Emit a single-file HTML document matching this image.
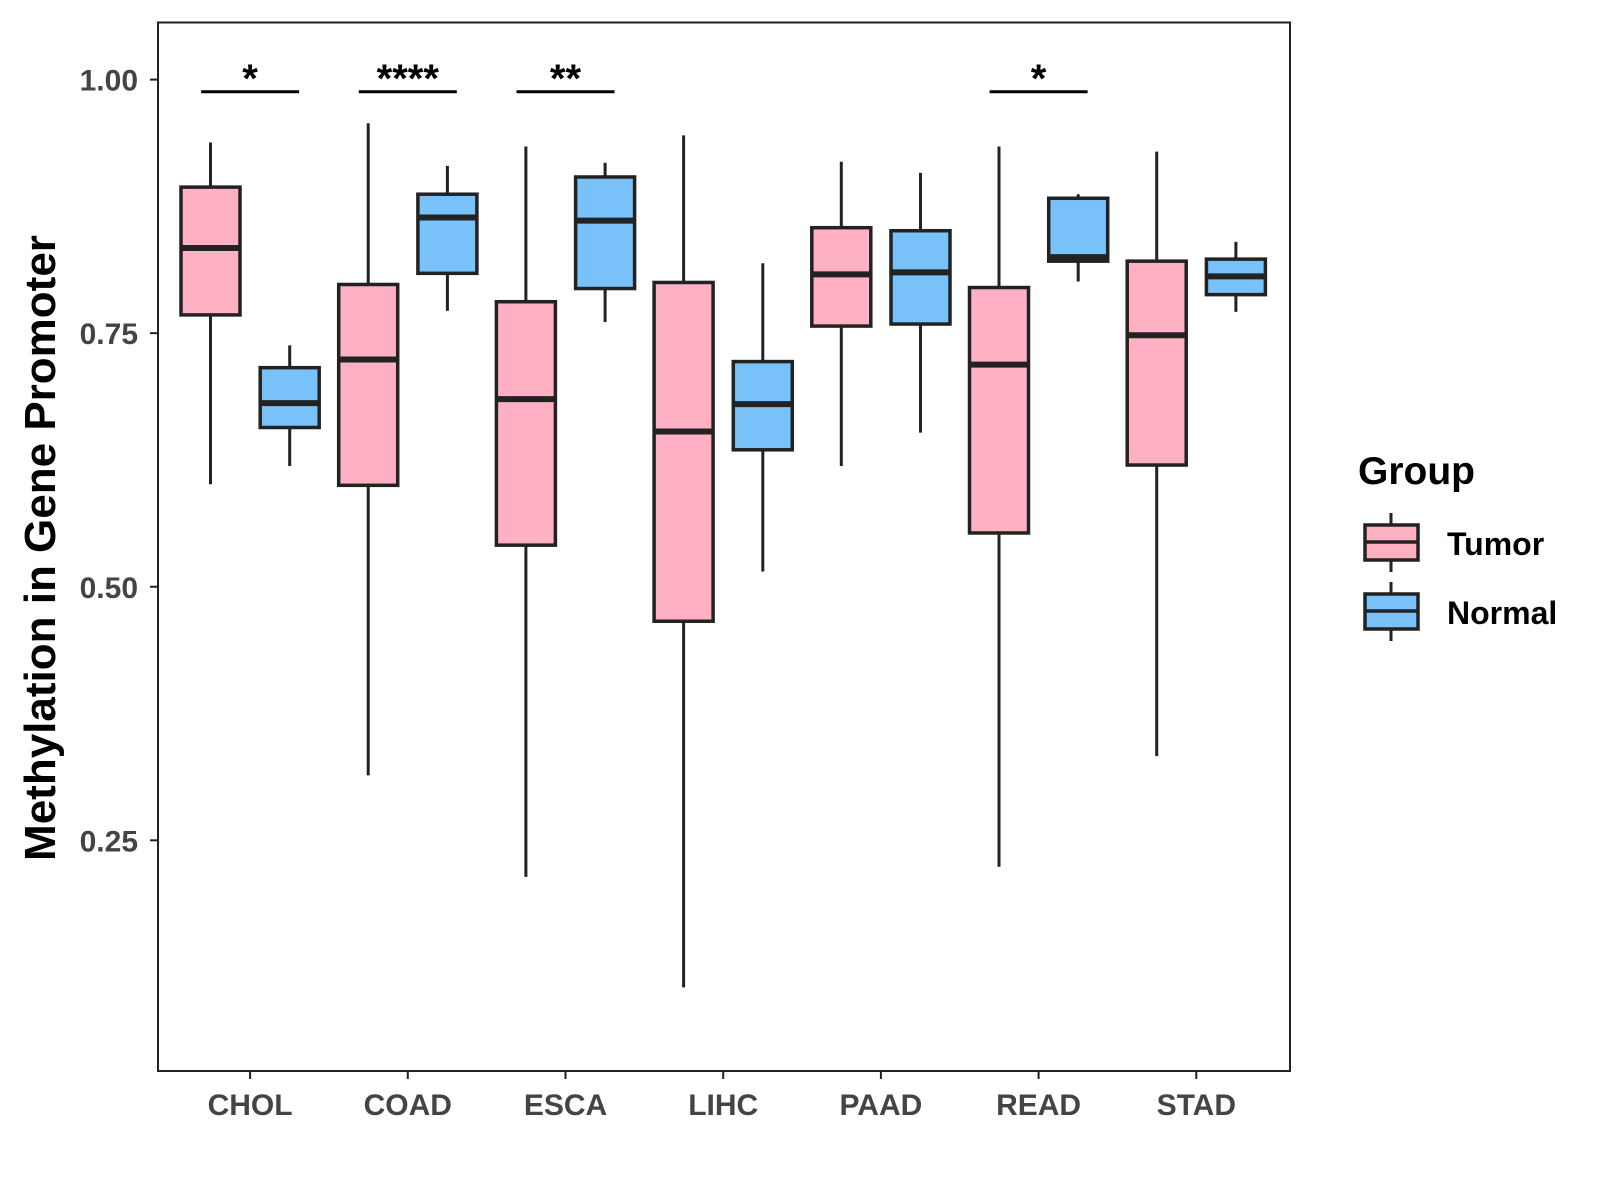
<!DOCTYPE html>
<html><head><meta charset="utf-8"><style>body{margin:0;background:#fff}svg{display:block}text{font-family:"Liberation Sans",Arial,sans-serif}</style></head>
<body>
<svg id="chart" width="1600" height="1200" viewBox="0 0 1600 1200" xmlns="http://www.w3.org/2000/svg">
<rect x="158" y="22.5" width="1132" height="1048.5" fill="#fff" stroke="#222" stroke-width="2"/>
<g id="g"></g>
<text transform="translate(55,548) rotate(-90)" text-anchor="middle" font-size="44" font-weight="bold" fill="#000">Methylation in Gene Promoter</text>
<text x="1358" y="484" font-size="39" font-weight="bold" fill="#000">Group</text>
<g>
<line x1="1391" y1="513" x2="1391" y2="572" stroke="#222" stroke-width="3"/>
<rect x="1365" y="525" width="53" height="35" fill="#FFB0C3" stroke="#222" stroke-width="3.5"/>
<line x1="1365" y1="542" x2="1418" y2="542" stroke="#222" stroke-width="3.5"/>
<text x="1447" y="555" font-size="32" font-weight="bold">Tumor</text></g>
<g>
<line x1="1391" y1="582" x2="1391" y2="641" stroke="#222" stroke-width="3"/>
<rect x="1365" y="594" width="53" height="35" fill="#79C1F9" stroke="#222" stroke-width="3.5"/>
<line x1="1365" y1="611" x2="1418" y2="611" stroke="#222" stroke-width="3.5"/>
<text x="1447" y="624" font-size="32" font-weight="bold">Normal</text></g>
</svg>
<script>
const categories=["CHOL","COAD","ESCA","LIHC","PAAD","READ","STAD"];
// [whiskerHigh, Q3, median, Q1, whiskerLow]
const tumorStats=[[0.938,0.894,0.834,0.768,0.601],[0.957,0.798,0.724,0.600,0.314],[0.934,0.781,0.685,0.541,0.214],[0.945,0.800,0.653,0.466,0.105],[0.919,0.854,0.808,0.757,0.619],[0.934,0.795,0.719,0.553,0.224],[0.929,0.821,0.748,0.620,0.333]];
const normalStats=[[0.738,0.716,0.681,0.657,0.619],[0.915,0.887,0.864,0.809,0.772],[0.918,0.904,0.861,0.794,0.761],[0.819,0.722,0.680,0.635,0.515],[0.908,0.851,0.810,0.759,0.652],[0.887,0.883,0.825,0.821,0.801],[0.840,0.823,0.806,0.788,0.771]];
const yTicks=[0.25,0.50,0.75,1.00];
const yTickLabels=["0.25","0.50","0.75","1.00"];
const sigLabels=["*","****","**","","","*",""];
const sigLevel=0.988;
const NS="http://www.w3.org/2000/svg";
const g=document.getElementById('g');
function y(v){return 79.6+(1-v)*1014.3;}
function x(i){return 250.1+i*157.7;}
function mk(t,a,p){const e=document.createElementNS(NS,t);for(const k in a)e.setAttribute(k,a[k]);(p||g).appendChild(e);return e;}
yTicks.forEach((v,i)=>{
 const t=mk('line',{x1:150,x2:158,y1:y(v),y2:y(v),stroke:'#222','stroke-width':2});
 
 
 const l=mk('text',{x:138,y:y(v)+11,'text-anchor':'end','font-size':30,'font-weight':'bold',fill:'#444'});
 l.textContent=yTickLabels[i];
 
 
});
function box(cx,s,fill,name){
 const grp=mk('g',{});
 
 
 mk('line',{x1:cx,x2:cx,y1:y(s[0]),y2:y(s[4]),stroke:'#222','stroke-width':3},grp);
 mk('rect',{x:cx-29.5,y:y(s[1]),width:59,height:y(s[3])-y(s[1]),fill:fill,stroke:'#222','stroke-width':3.5},grp);
 mk('line',{x1:cx-29.5,x2:cx+29.5,y1:y(s[2]),y2:y(s[2]),stroke:'#222','stroke-width':6},grp);
}
categories.forEach((c,i)=>{
 box(x(i)-39.6,tumorStats[i],'#FFB0C3','box-tumor-'+c.toLowerCase());
 box(x(i)+39.6,normalStats[i],'#79C1F9','box-normal-'+c.toLowerCase());
 const t=mk('line',{x1:x(i),x2:x(i),y1:1071,y2:1079,stroke:'#222','stroke-width':2});
 
 
 const l=mk('text',{x:x(i),y:1115,'text-anchor':'middle','font-size':30,'font-weight':'bold',fill:'#444'});
 l.textContent=c;
 
 
 if(sigLabels[i]){
  const b=mk('line',{x1:x(i)-49,x2:x(i)+49,y1:y(sigLevel),y2:y(sigLevel),stroke:'#000','stroke-width':3});
  
  
  const s=mk('text',{x:x(i),y:y(sigLevel),'text-anchor':'middle','font-size':40,'font-weight':'bold',fill:'#000'});
  s.textContent=sigLabels[i];
  
  
 }
});
</script>
</body></html>
